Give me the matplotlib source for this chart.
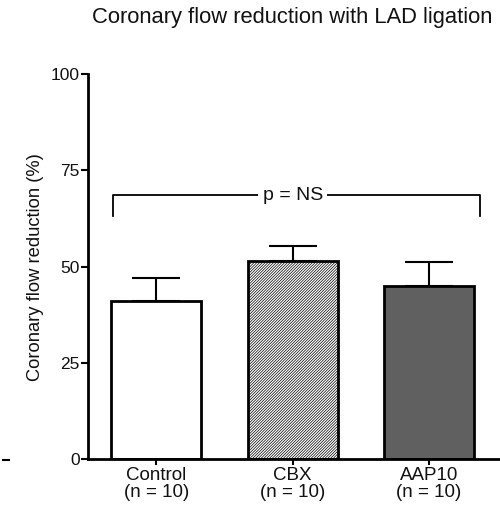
import numpy as np
import matplotlib.pyplot as plt
from matplotlib.lines import Line2D

plt.rcParams['font.family'] = ['Liberation Sans', 'DejaVu Sans']
plt.rcParams['hatch.linewidth'] = 0.5

# data
groups = ['Control\n(n = 10)', 'CBX\n(n = 10)', 'AAP10\n(n = 10)']
means = [41.0, 51.5, 45.0]
sems = [6.0, 3.8, 6.2]
faces = ['white', 'white', '#606060']
hatches = ['', '////////////', '']
yticks = [0, 25, 50, 75, 100]

fig = plt.figure(figsize=(5.0, 5.07), dpi=100)
ax = fig.add_axes([0.176, 0.0947, 0.824, 0.759])

x = np.arange(len(groups))
for i in range(len(groups)):
    ax.bar(x[i], means[i], width=0.66, color=faces[i], edgecolor='black',
           linewidth=2, hatch=hatches[i], zorder=2)
ax.errorbar(x, means, yerr=[np.zeros(3), sems], fmt='none', ecolor='black',
            elinewidth=1.5, capsize=17, capthick=1.5, zorder=1)

# p = NS bracket
ax.plot([-0.32, -0.32, 2.37, 2.37], [63.1, 68.6, 68.6, 63.1], color='black', lw=1.3)
ax.text(1.0, 68.6, 'p = NS', ha='center', va='center', fontsize=14, color='#111111',
        bbox=dict(facecolor='white', edgecolor='none', pad=3))

ax.set_xlim(-0.5, 2.52)
ax.set_ylim(0, 100)
ax.set_yticks(yticks)
ax.set_xticks(x)
ax.set_xticklabels(groups, fontsize=13.5, linespacing=1.0, color='#111111')
ax.tick_params(axis='y', labelsize=12.5, width=1.5, length=5, pad=1, labelcolor='#111111')
ax.tick_params(axis='x', width=1.5, length=4, pad=2)
ax.set_ylabel('Coronary flow reduction (%)', fontsize=13.2, labelpad=5, color='#111111')
for s in ['top', 'right']:
    ax.spines[s].set_visible(False)
for s in ['left', 'bottom']:
    ax.spines[s].set_linewidth(2)

fig.text(0.584, 0.965, 'Coronary flow reduction with LAD ligation',
         ha='center', va='center', fontsize=15.8, color='#111111')
fig.add_artist(Line2D([0.006, 0.017], [0.093, 0.093], color='black', lw=1.5))

fig.savefig('out.png', dpi=100)
